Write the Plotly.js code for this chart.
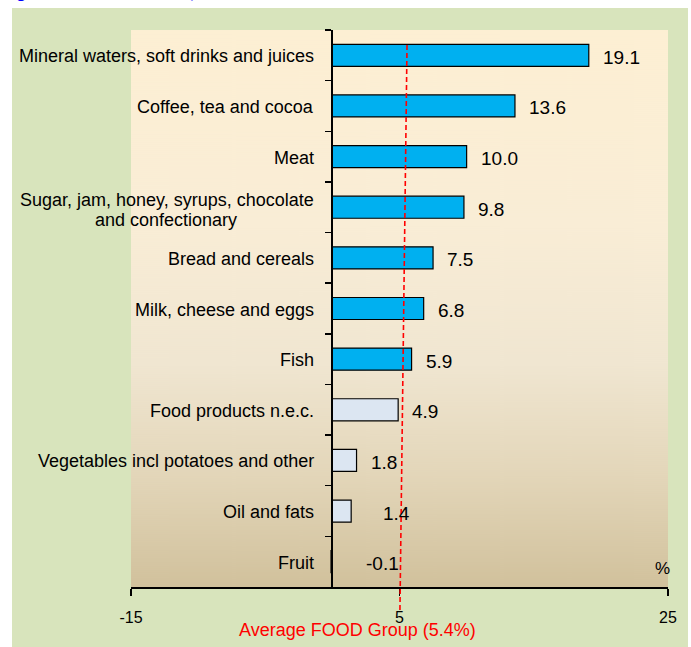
<!DOCTYPE html>
<html><head><meta charset="utf-8">
<script src="https://cdn.plot.ly/plotly-3.0.1.min.js"></script>
<style>html,body{margin:0;padding:0;background:#fff}</style>
</head><body><div id="chart" style="width:691px;height:647px"></div>
<script>
// ---- data ----
const categories = [
  "Mineral waters, soft drinks and juices",
  "Coffee, tea and cocoa",
  "Meat",
  "Sugar, jam, honey, syrups, chocolate and confectionary",
  "Bread and cereals",
  "Milk, cheese and eggs",
  "Fish",
  "Food products n.e.c.",
  "Vegetables incl potatoes and other",
  "Oil and fats",
  "Fruit"
];
const values = [19.1, 13.6, 10.0, 9.8, 7.5, 6.8, 5.9, 4.9, 1.8, 1.4, -0.1];
const average = 5.4;
const xTickVals = [-15, 5, 25];
const xTickText = ["-15", "5", "25"];
const averageLabel = "Average FOOD Group (5.4%)";
const titleText = "Figure 4: Food inflation, June 2011";

// ---- styling ----
const FONT = "Liberation Sans, Arial, sans-serif";
const aboveColor = "#00B0F0", belowColor = "#DCE6F2";
const W = 691, H = 647;
const M = {l: 131, r: 23, t: 30, b: 60};
const PW = W - M.l - M.r, PH = H - M.t - M.b;
const px2x = p => (p - M.l) / PW;
const py2y = p => (H - M.b - p) / PH;
const axisPos = (0 - (-15)) / (25 - (-15));

// gradient background image for plot area
const cv = document.createElement('canvas');
cv.width = 8; cv.height = PH;
const ctx = cv.getContext('2d');
const g = ctx.createLinearGradient(0, 0, 0, PH);
g.addColorStop(0, '#FDEFD3');
g.addColorStop(0.35, '#F9EDD6');
g.addColorStop(0.6, '#F0E6D1');
g.addColorStop(0.8, '#E3D6B9');
g.addColorStop(1, '#D1C19C');
ctx.fillStyle = g; ctx.fillRect(0, 0, 8, PH);
const bgURL = cv.toDataURL('image/png');

const trace = {
  type: 'bar', orientation: 'h',
  x: values, y: categories,
  width: 0.435,
  marker: {
    color: values.map(v => v > average ? aboveColor : belowColor),
    line: {color: '#000', width: 1.2}
  },
  hoverinfo: 'skip'
};

const annotations = [];
// category labels
categories.forEach((c, i) => {
  if (c.startsWith("Sugar")) {
    annotations.push({xref: 'paper', yref: 'y', x: axisPos, y: c, xanchor: 'right', yanchor: 'middle',
      xshift: -16, yshift: 7, showarrow: false, text: "Sugar, jam, honey, syrups, chocolate",
      font: {family: FONT, size: 18, color: '#000'}});
    annotations.push({xref: 'paper', yref: 'y', x: axisPos, y: c, xanchor: 'center', yanchor: 'middle',
      xshift: -166, yshift: -13, showarrow: false, text: "and confectionary",
      font: {family: FONT, size: 18, color: '#000'}});
  } else {
    annotations.push({xref: 'paper', yref: 'y', x: axisPos, y: c, xanchor: 'right', yanchor: 'middle',
      xshift: -16, yshift: -1, showarrow: false, text: c,
      font: {family: FONT, size: 18, color: '#000'}});
  }
});
// value labels
const nudge = {"Oil and fats": 18, "Fruit": 20};
values.forEach((v, i) => {
  annotations.push({xref: 'x', yref: 'y', x: Math.max(v, 0), y: categories[i], xanchor: 'left', yanchor: 'middle',
    xshift: 12 + (nudge[categories[i]] || 0), yshift: -2, showarrow: false, text: v.toFixed(1),
    font: {family: FONT, size: 19, color: '#000'}});
});
// percent sign
annotations.push({xref: 'paper', yref: 'paper', x: 1, y: py2y(568), xanchor: 'right', yanchor: 'middle',
  xshift: 4, showarrow: false, text: '%', font: {family: FONT, size: 17, color: '#000'}});
// average label
annotations.push({xref: 'paper', yref: 'paper', x: px2x(357), y: py2y(630), xanchor: 'center', yanchor: 'middle',
  showarrow: false, text: averageLabel, font: {family: FONT, size: 18, color: '#FF0000'}});
// cut-off figure title
annotations.push({xref: 'paper', yref: 'paper', x: px2x(-1), y: py2y(4), xanchor: 'left', yanchor: 'bottom',
  showarrow: false, text: '<b>' + titleText + '</b>', font: {family: FONT, size: 17, color: '#0000FF'}});

const shapes = [
  // white margins around the green frame
  {type: 'rect', xref: 'paper', yref: 'paper', x0: px2x(0), x1: px2x(W), y0: py2y(0), y1: py2y(8), fillcolor: '#fff', line: {width: 0}, layer: 'below'},
  {type: 'rect', xref: 'paper', yref: 'paper', x0: px2x(0), x1: px2x(12), y0: py2y(0), y1: py2y(H), fillcolor: '#fff', line: {width: 0}, layer: 'below'},
  {type: 'rect', xref: 'paper', yref: 'paper', x0: px2x(688), x1: px2x(W), y0: py2y(0), y1: py2y(H), fillcolor: '#fff', line: {width: 0}, layer: 'below'},
  // average dashed line (slightly slanted as in the source)
  {type: 'line', xref: 'x', yref: 'paper', x0: average + 0.16, x1: average - 0.37, y0: py2y(45), y1: py2y(613),
    line: {color: '#FF0000', width: 1.6, dash: '5px,3px'}, layer: 'above'}
];

const layout = {
  width: W, height: H,
  margin: M,
  paper_bgcolor: '#D8E4BC',
  plot_bgcolor: '#FDEFD3',
  showlegend: false,
  font: {family: FONT, color: '#000'},
  xaxis: {
    range: [-15, 25], tickmode: 'array', tickvals: xTickVals, ticktext: xTickText,
    showgrid: false, zeroline: false, showline: true, linecolor: '#000', linewidth: 2,
    ticks: 'outside', ticklen: 7, tickwidth: 1.5, tickcolor: '#000',
    tickfont: {family: FONT, size: 16, color: '#000'}, ticklabelstandoff: 8,
    fixedrange: true
  },
  yaxis: {
    type: 'category', range: [categories.length - 0.5, -0.5],
    anchor: 'free', position: axisPos,
    showgrid: false, zeroline: false, showline: true, linecolor: '#000', linewidth: 2,
    ticks: 'outside', ticklen: 6, tickwidth: 1.5, tickcolor: '#000', tickson: 'boundaries',
    showticklabels: false, fixedrange: true
  },
  images: [{source: bgURL, xref: 'paper', yref: 'paper', x: 0, y: 1, sizex: 1, sizey: 1,
    sizing: 'stretch', xanchor: 'left', yanchor: 'top', layer: 'below'}],
  annotations: annotations,
  shapes: shapes,
  bargap: 0.5
};

Plotly.newPlot('chart', [trace], layout, {displayModeBar: false, staticPlot: true});
</script>
</body></html>
